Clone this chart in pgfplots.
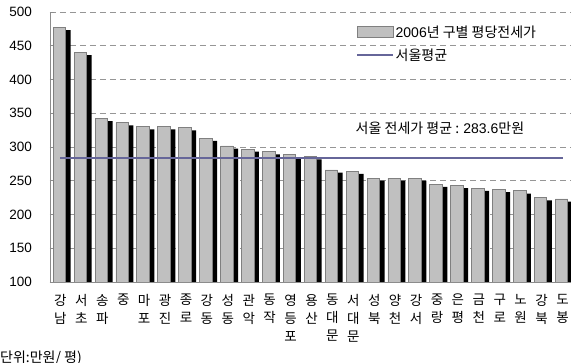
\documentclass[border=0pt]{standalone}
\usepackage{fontspec}
\setmainfont{Liberation Sans}
\newfontfamily\kr{Noto Sans CJK KR}
\usepackage{pgfplots}
\usepackage{pgfplotstable}
\pgfplotsset{compat=1.18}
\definecolor{barfill}{RGB}{192,192,192}
\definecolor{baredge}{RGB}{128,128,128}
\definecolor{avgline}{RGB}{102,102,153}
\definecolor{gridc}{RGB}{150,150,150}
\definecolor{axisc}{RGB}{140,140,140}
\pgfplotsset{
  barleg/.style={legend image code/.code={\draw[##1] (0pt,-5.5pt) rectangle (36pt,5.5pt);}},
  lineleg/.style={legend image code/.code={\draw[##1] (0pt,0pt) -- (36pt,0pt);}},
}

\pgfplotstableread{
x val shadow
0 477 473
1 440 436
2 342.5 338.5
3 336 332
4 330 326
5 330 326
6 328.6 324.6
7 313 309
8 301.5 297.5
9 297 293
10 293 289
11 289 285
12 285.6 281.6
13 266 262
14 264 260
15 254 250
16 254 250
17 254 250
18 245 241
19 243 239
20 239 235
21 237 233
22 235 231
23 225 221
24 223 219
}\rentdata

\begin{document}
\begin{tikzpicture}
\begin{axis}[
  anchor=origin, at={(0pt,0pt)},
  scale only axis, width=523pt, height=270pt,
  ymin=100, ymax=500, ytick={100,150,...,500},
  xmin=-0.5, xmax=24.5,
  xtick={0,...,24},
  xticklabels={{강\\남},{서\\초},{송\\파},{중},{마\\포},{광\\진},{종\\로},{강\\동},{성\\동},{관\\악},{동\\작},{영\\등\\포},{용\\산},{동\\대\\문},{서\\대\\문},{성\\북},{양\\천},{강\\서},{중\\랑},{은\\평},{금\\천},{구\\로},{노\\원},{강\\북},{도\\봉}},
  xticklabel style={font=\kr\fontsize{13.5}{18}\selectfont, align=center, inner sep=1pt, yshift=-11pt},
  yticklabel style={font=\fontsize{13.5}{16}\selectfont, xshift=-14.5pt},
  /pgf/number format/assume math mode=true,
  axis lines*=left,
  axis line style={axisc, line width=0.8pt},
  tick align=inside,
  major tick length=4pt,
  minor tick length=4pt,
  ytick style={axisc, line width=0.8pt},
  xtick style={draw=none},
  minor xtick={-0.5,0.5,...,24.5},
  minor x tick style={axisc, line width=0.8pt},
  ymajorgrids,
  grid style={dash pattern=on 6pt off 4pt, gridc, line width=0.6pt},
  legend style={at={(0.585,0.955)}, anchor=north west, draw=none, fill=none,
    font=\kr\fontsize{14}{16}\selectfont, row sep=7pt, inner sep=0pt,
    nodes={inner sep=1.5pt}},
  legend cell align=left,
]
\addplot[ybar, bar width=12.5pt, bar shift=4pt, fill=black, draw=none, forget plot]
  table[x=x, y=shadow] {\rentdata};
\addplot[ybar, bar width=12.5pt, bar shift=-1pt, fill=barfill, draw=baredge, line width=0.8pt, barleg]
  table[x=x, y=val] {\rentdata};
\addlegendentry{{\rmfamily 2006}년 구별 평당전세가}
\addplot[sharp plot, color=avgline, line width=2pt, lineleg]
  coordinates {(0,283.6) (24,283.6)};
\addlegendentry{서울평균}
\node[font=\kr\fontsize{14}{16}\selectfont] at (axis cs:18.14,328) {서울 전세가 평균 : {\rmfamily 283.6}만원};
\coordinate (SW) at (rel axis cs:0,0);
\end{axis}
\pgfresetboundingbox
\path[use as bounding box] ([shift={(-50pt,-81pt)}]SW) rectangle ([shift={(521pt,282pt)}]SW);
\node[anchor=west, font=\kr\fontsize{14}{16}\selectfont, inner sep=0pt] at ([shift={(-50pt,-76pt)}]SW) {단위:만원/ 평)};
\end{tikzpicture}
\end{document}
